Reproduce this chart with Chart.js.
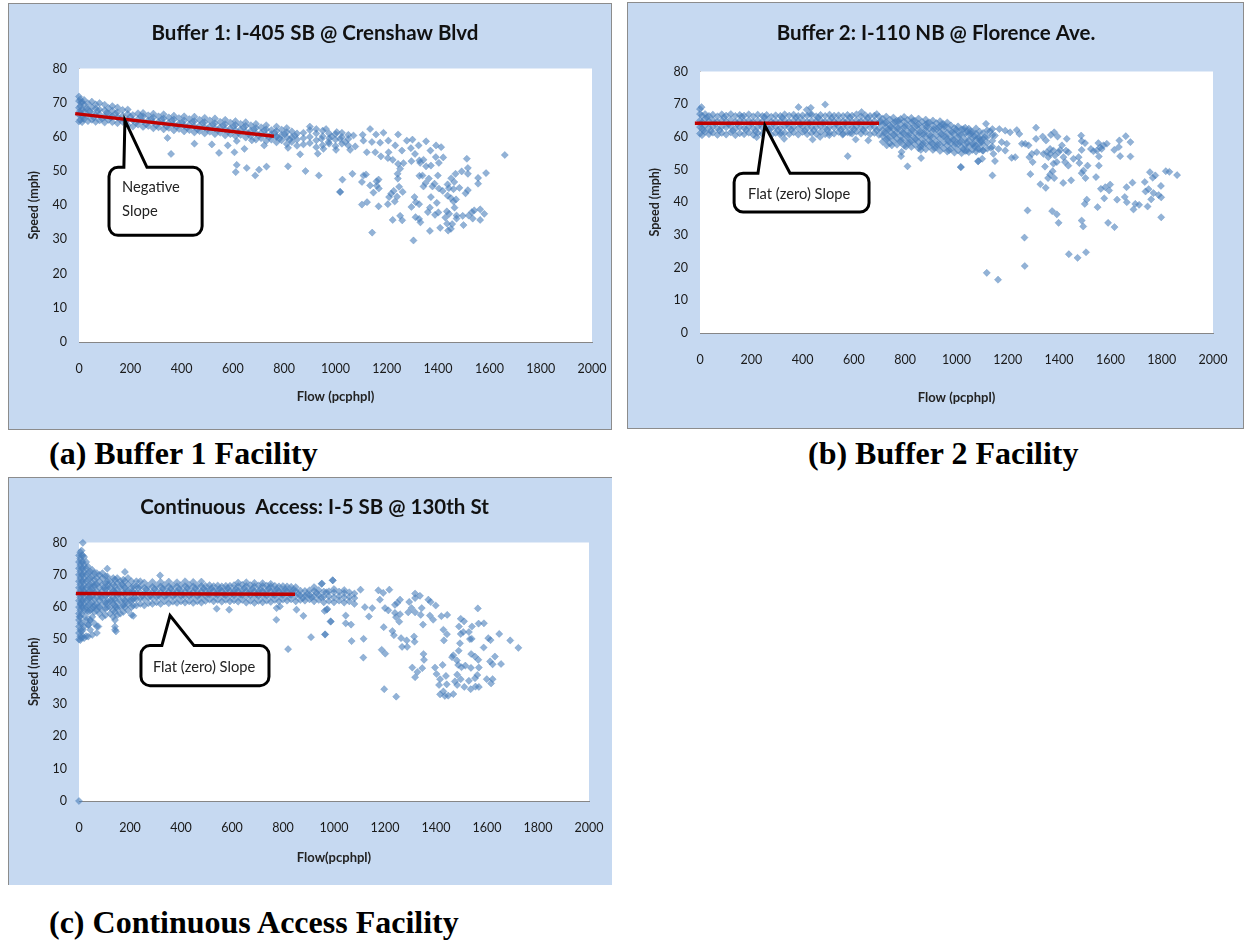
<!DOCTYPE html>
<html>
<head>
<meta charset="utf-8">
<title>Speed vs flow</title>
<script src="https://cdn.jsdelivr.net/npm/chart.js@4/dist/chart.umd.min.js"></script>
<style>
  html, body { margin: 0; padding: 0; background: #fff; }
  body { position: relative; width: 1244px; height: 942px; overflow: hidden; }
  .panel { position: absolute; background: #c6d9f1; border: 1px solid #8c8c8c; box-sizing: border-box; }
  canvas { position: absolute; }
  .cap { position: absolute; font: bold 32px "Liberation Serif", serif; color: #000; white-space: nowrap; }
</style>
</head>
<body>
<div class="panel" style="left:8px;top:3px;width:604px;height:427px"></div>
<div class="panel" style="left:627px;top:2px;width:617px;height:427px"></div>
<div class="panel" style="left:8px;top:477px;width:604px;height:408px;border-width:1px 0 0 1px"></div>
<canvas id="chartA"></canvas>
<canvas id="chartB"></canvas>
<canvas id="chartC"></canvas>
<div class="cap" style="left:49px;top:435px">(a) Buffer 1 Facility</div>
<div class="cap" style="left:808px;top:435px">(b) Buffer 2 Facility</div>
<div class="cap" style="left:49px;top:904px">(c) Continuous Access Facility</div>

<script>
const flowTicks = [0, 200, 400, 600, 800, 1000, 1200, 1400, 1600, 1800, 2000];
const speedTicks = [0, 10, 20, 30, 40, 50, 60, 70, 80];

/* dense part of each cloud: [flow, speed, speed, ...] read column by column */
const bandA = [
  [0,64.5,66.5,68.5,70.5,71.8],[5,65,67,69,71],[12,64.3,66,68,70.2],[20,65.2,67.3,69.4,70.8],[35,64.6,66.2,68.1,69.8],
  [50,65,66.9,68.6,70.3],[65,64.4,66.4,68.3,69.5],[80,64.8,66.6,68,69.9],[100,64.2,65.9,67.8,69.4],[115,65,66.8,68.4],
  [130,64.3,66,67.6,69],[150,64,65.7,67.2,68.6],[170,64.4,66.2,67.9],[190,63.5,65.1,66.7,68],[210,63,64.8,66.4],
  [230,63.6,65.2,66.9],[250,62.9,64.5,66,67],[270,63.2,64.8,66.3],[290,62.5,64.2,65.7,66.8],[310,62.8,64.4,66],
  [330,62.2,63.9,65.4,66.6],[350,62.6,64.1,65.7],[370,61.9,63.5,65.1,66.2],[390,62.3,63.9,65.5],[410,61.6,63.2,64.8,66],
  [430,62,63.6,65.2],[450,61.3,63,64.6,65.9],[470,61.7,63.3,65],[490,61,62.7,64.3,65.6],[510,61.5,63.1,64.8],
  [530,60.8,62.4,64,65.4],[550,61.2,62.8,64.4],[570,60.4,62.1,63.7,65],[590,60.8,62.5,64.2],[610,60.2,61.9,63.5,64.6],
  [630,60.6,62.2,63.8],[650,59.8,61.5,63.2,64.3],[670,60.2,61.8,63.4],[690,59.2,61,62.6,63.8],[710,59.6,61.2,62.8],
  [730,58.8,60.5,62.2,63.4],[750,59.2,60.8,62],[770,58.4,60,61.7,63],[790,59,60.6,62.1],[810,57.9,59.8,61.4,62.6],
  [830,58.5,60,61.6],[850,57.4,59.2,61],[875,57.8,59.6,61.2],[900,58.2,60,62,63],[925,57,59,61,62.3],
  [950,57.6,60.2,61.8],[975,58,59.6,61],[1000,57.3,59.2,60.8],[1025,58,60,61.2],[1050,57.5,59.4,60.6]
];
const fillA = [
  [3,67.5],[9,70],[16,65.5],[27,68.2],[42,67.4],[58,65.6],[72,67.6],[90,65.3],[108,67],[124,65.7],[142,66.8],[160,65.2],
  [180,64.7],[200,65.9],[222,64.1],[241,66],[262,63.7],[282,65.2],[302,63.4],[322,65.1],[342,63],[362,64.8],[382,63.1],
  [402,64.2],[422,62.7],[442,64.4],[462,62.2],[482,64.1],[502,62.3],[522,63.7],[542,62],[562,63.3],[582,61.6],[602,63],
  [622,61.2],[642,62.7],[662,60.9],[682,62.2],[702,60.4],[722,61.9],[742,60],[762,61.2],[782,59.5],[802,60.8],[822,59.2],[842,60.3]
];
const sparseA = [
  [1660,54.7],[1512,53.6],[1516,50.9],[1516,49.2],[1587,49.4],[1556,48],[1556,46.3],[1492,49.9],[1468,49.2],[1451,47.9],
  [1463,46.8],[1437,46.1],[1442,45],[1460,44.7],[1483,45.1],[1516,44.4],[1507,43.5],[1418,44.2],[1403,44.9],[1386,46.3],
  [1378,45.5],[1364,47.8],[1343,45.5],[1351,46.5],[1399,48.7],[1339,48.7],[1327,48.6],[1437,42.8],[1450,42.1],[1460,41.1],
  [1470,41.7],[1464,39.3],[1395,40.7],[1372,42.4],[1308,42.4],[1313,40.9],[1326,40.3],[1296,39.5],[1368,39.3],[1360,38],
  [1388,37.2],[1401,37.9],[1434,38.2],[1443,37.5],[1428,36.4],[1472,37],[1472,36.1],[1496,36.9],[1519,37],[1532,38],
  [1541,38.5],[1564,38.8],[1580,37.5],[1535,36.1],[1564,35.7],[1499,34.2],[1455,34.5],[1435,34.6],[1450,33.1],[1439,32.6],
  [1408,33.4],[1368,32.5],[1304,29.7],[1143,32],[1223,35.7],[1252,36.9],[1260,35.6],[1312,36.5],[1326,36],[1331,35],
  [1204,40.3],[1168,39.7],[1123,40.9],[1103,40.2],[1231,41.1],[1240,42.5],[1209,42.4],[1217,43.4],[1227,44.2],[1248,45.4],
  [1262,43.9],[1148,43.7],[1169,44.9],[1161,45.7],[1168,47.5],[1160,47],[1135,45.8],[1103,46.8],[1109,48.7],[1119,49],
  [1066,49.2],[1027,47.5],[1018,43.9],[1243,47.8],[1242,49.2],[1252,50.7],[1265,52.3],[1244,52.1],[1296,52.9],[1330,52.4],
  [1343,53.3],[1353,51.4],[1372,51.6],[1391,54.1],[1420,54],[1403,52.4],[1135,62.3],[1187,61.2],[1158,60.7],[1106,60.6],
  [1005,61.4],[963,62.3],[985,60.1],[1018,59.4],[1070,60.4],[1109,58.9],[1077,57.2],[1122,55.5],[1155,55.5],[1174,58.3],
  [1206,58.9],[1244,60.7],[1278,58.9],[1300,59.2],[1233,57.5],[1259,56],[1294,56.7],[1324,57.5],[1353,58.7],[1392,57.5],
  [1412,57],[1370,56],[1310,55],[1207,55.5],[1177,54.3],[1204,53.8],[1223,53.3],[1327,53.1],[953,56.5],[1002,56.2],
  [1057,56.2],[945,59.4],[973,58.5],[1038,58.5],[1142,58.5],[359,55],[345,59.7],[450,58],[518,57.8],[546,55.3],
  [580,57.5],[606,55.5],[645,56.5],[615,51.8],[611,49.7],[654,50.9],[687,48.7],[702,50.4],[731,51.3],[815,51.4],
  [883,50],[935,48.7],[1018,43.9],[815,56.8],[862,54.9],[931,55.1],[615,58.8],[674,59],[722,57.5],[771,60.1]
];
const trendA = [[-15,66.8],[760,60.2]];

const bandB = [
  [0,61,63,65,67,68.5],[8,60.5,62.5,64.5,66.5],[20,61.5,63.5,65.5,67],[35,60.8,62.8,64.8,66.4],[50,61.3,63.2,65.2,66.8],
  [68,60.6,62.6,64.6,66.3],[85,61.2,63.1,65,66.9],[102,60.7,62.9,64.7,66.5],[120,61.4,63.3,65.3,67],[138,60.5,62.5,64.6,66.4],
  [155,61.1,63,65,66.7],[172,60.8,62.7,64.8,66.5],[190,61.3,63.2,65.1,66.9],[208,60.6,62.6,64.5,66.3],[225,61.2,63,65,66.8],
  [243,60.9,62.8,64.7,66.4],[260,61.4,63.3,65.2,66.7],[278,60.6,62.6,64.6,66.2],[295,61.2,63.1,64.9,66.6],[313,60.7,62.7,64.7,66.4],
  [330,61.3,63.2,65.2,66.9],[348,60.8,62.8,64.6,66.5],[365,61.4,63.1,65,66.8],[383,60.7,62.6,64.8,66.4],[400,61.5,63.3,65.2,66.6],
  [418,60.8,62.7,64.6,66.5],[435,61.2,63,65,66.9],[453,60.9,62.9,64.8,66.3],[470,61.5,63.3,65.1,66.7],[488,60.8,62.6,64.6,66.4],
  [505,61.3,63.1,65,66.8],[523,61,62.8,64.7,66.5],[540,61.5,63.2,65.2,66.6],[558,60.9,62.7,64.8,66.4],[575,61.4,63.1,65,66.7],
  [593,61,62.9,64.6,66.5],[610,61.6,63.3,65.1,66.9],[628,61,62.7,64.7,66.3],[645,61.4,63.2,65,66.6],[663,60.8,62.8,64.6,66.4],
  [680,61.2,63,64.9,66.5],[698,60.6,62.6,64.5,66.2]
];
const bandB2 = [
  [712,58.5,60.3,62.1,63.9,65.6],[726,59.2,61,62.8,64.5,66.2],[740,58,59.9,61.7,63.5,65.3],[754,58.8,60.6,62.4,64.2,65.9],
  [768,57.6,59.5,61.3,63.1,64.9],[782,58.4,60.2,62,63.8,65.5],[796,57.3,59.2,61,62.9,64.7,66.1],[810,58.1,59.9,61.7,63.5,65.2],
  [824,56.9,58.8,60.6,62.5,64.3,65.8],[838,57.7,59.5,61.3,63.2,64.9],[852,56.5,58.4,60.3,62.2,64,65.6],[866,57.4,59.2,61,62.9,64.6],
  [880,56.2,58.1,60,61.9,63.8,65.3],[894,57.1,58.9,60.7,62.6,64.4],[908,56,57.9,59.8,61.7,63.5,65],[922,56.8,58.6,60.5,62.4,64.2],
  [936,55.7,57.6,59.5,61.4,63.2,64.8],[950,56.5,58.3,60.2,62.1,63.9],[964,55.5,57.4,59.3,61.2,63,64.4],[978,56.3,58.1,60,61.8,63.5],
  [992,55.2,57.1,59,60.9,62.7],[1006,55.9,57.8,59.7,61.5,63.2],[1020,55,56.9,58.7,60.6,62.3],[1034,55.7,57.5,59.3,61.1,62.8],
  [1048,55.3,57.2,59,60.8,62.5],[1062,56,57.8,59.6,61.4],[1076,55.5,57.4,59.2,61,62.6],[1090,56.2,58,59.8,61.6],
  [1104,55.8,57.6,59.4,61.2],[1120,56.4,58.2,60,62],[1140,57,58.8,60.6,62.4]
];
const fillB = [
  [4,64],[14,62],[27,66],[42,61.8],[58,64.2],[76,62],[93,66],[111,63.9],[128,61.9],[146,64],[163,66.2],[181,62.2],[199,64.2],
  [216,61.7],[234,64],[251,66.1],[269,62.3],[286,64.1],[304,62],[321,65.9],[339,64],[356,62.2],[374,66],[391,63.8],[409,61.9],
  [426,64.2],[444,62],[461,65.9],[479,64.3],[496,62.2],[514,65.8],[531,64],[549,62.2],[566,64.2],[584,66],[601,62.3],[619,64.3],
  [636,62.1],[654,65.8],[671,64],[689,62],
  [705,64.7],[718,61.2],[731,59.5],[744,63],[757,60.7],[770,62.5],[783,58.9],[799,63.3],[812,60.5],[826,62],[840,59.2],[855,61.3],
  [869,58],[883,63],[897,60.1],[911,62.4],[926,57.6],[940,60.8],[953,63.2],[968,58.6],[982,61.4],[997,57.9],[1011,60.5],[1026,62.4],
  [1041,58.2],[1056,60.9],[1070,57],[1085,59.7],[722,64.2],[748,57.4],[775,65],[803,57],[831,64.9],[859,56.9],[887,64.2],[915,56.6],
  [943,63.9],[971,55.9],[999,62.2],[1027,56.2],[1055,61.8],[1083,56.4],[1110,59.9],[735,62.4],[761,64.6],[790,61.2],[818,58.3],
  [846,63.5],[874,61],[902,58.1],[930,62.8],[958,60.1],[986,59.1],[1014,58.4],[1042,61.7],[1070,60.2],[1098,58.5]
];
const sparseB = [
  [1860,48.3],[1830,49.3],[1816,49.5],[1797,45],[1798,41.5],[1798,35.4],[1788,42.2],[1768,42.8],[1759,40.9],[1745,38.7],
  [1749,44],[1737,43.3],[1734,46.2],[1775,48.2],[1765,47.5],[1754,49.2],[1712,39.2],[1697,39.5],[1690,37.8],[1686,46],
  [1663,44.6],[1656,41.6],[1664,40],[1626,40.8],[1599,45.4],[1595,43.6],[1580,44.6],[1563,44.1],[1576,41.2],[1550,38.5],
  [1591,33.7],[1616,32.4],[1508,40.8],[1500,39.5],[1488,34.4],[1494,32.6],[1505,24.7],[1472,23],[1438,24.1],[1398,33.7],
  [1391,36.3],[1373,37.3],[1277,37.5],[1265,29.2],[1266,20.5],[1162,16.3],[1118,18.4],[1140,48.2],[1084,52.5],[1100,53.3],
  [1150,52.6],[1017,50.7],[1288,48.6],[1327,45.5],[1348,44.4],[1416,45.9],[1447,46.7],[1503,47.4],[1544,47.7],[1381,47.4],
  [1357,47.4],[1365,48.5],[1375,49.5],[1345,50.9],[1555,51.2],[1495,49.7],[1511,51.2],[1488,48.9],[1678,54],[1638,54.1],
  [1678,58.4],[1660,60.2],[1635,58.9],[1633,56.9],[1615,56],[1586,57.9],[1566,56.3],[1573,57.4],[1553,58.1],[1560,56.8],
  [1547,55.8],[1555,54],[1534,55.6],[1524,56.3],[1488,56],[1501,58.1],[1486,60.4],[1488,58.7],[1476,53.8],[1479,52],
  [1456,53.3],[1430,59.4],[1436,51.2],[1427,55.8],[1417,53.8],[1423,52.3],[1404,56],[1391,52.3],[1378,51.8],[1365,54.8],
  [1352,55.3],[1339,54.8],[1358,53.8],[1378,55.8],[1365,56.3],[1384,54.3],[1398,55.3],[1436,55.3],[1411,57.4],[1349,58.9],
  [1381,61.4],[1368,60.6],[1394,60.1],[1336,60.1],[1310,62.8],[1310,59.4],[1281,57.4],[1268,57.9],[1255,57.9],[1294,54.8],
  [1284,53.8],[1297,52.3],[1313,55.3],[1235,62.1],[1245,60.9],[1209,61.4],[1190,61.9],[1167,62.4],[1150,60.4],[1131,61.7],
  [1115,64],[1144,54.8],[1215,53.6],[1229,53.8],[1196,57.9],[1176,58.4],[1164,56.3],[1190,55.8],[1134,56.6],[1102,55.8],
  [1092,58.9],[1066,57.9],[1040,55.8],[384,69.1],[488,69.9],[432,68.9],[221,59.9],[328,59.4],[316,61.2],[439,59.2],
  [468,60],[504,60.5],[556,60.7],[607,59.2],[576,54.1],[656,58.9],[429,67],[585,61.2],[630,67.6],[689,67],
  [416,68.3],[786,55.4],[784,54.1],[809,51],[861,56],[862,53.5],[1017,50.8],[1085,52.6],[728,57.4],[6,69.1]
];
const trendB = [[-20,64.2],[698,64.2]];

const bandC = [
  [0,50,52,54,56,58,60,62,64,66,68,70,72,74,76],[5,49.8,51,53,55,57,59,61,63,65,67,69,71,73,75,77],
  [10,50.5,52.5,58,60,62,64,66,68,70,72,74,76,77.5],[15,51,53,60,62,64,66,68,70,72,74,76,79.9],
  [20,50.4,54,59,61,63,65,67,69,71,73,75.5],[28,51,56,60,62,64,66,68,70,72,74],[36,50.9,54.5,58.5,60.5,62.5,64.5,66.5,68.5,70.5,72.5],
  [44,53,56,59,61,63,65,67,69,71],[52,51.4,57,59.5,61.5,63.5,65.5,67.5,69.5,71.5],[60,55,58.5,60.5,62.5,64.5,66.5,68.5,70.5],
  [70,52,54,59,61,63,65,67,69,70.5],[80,58,60,62,64,66,68,70],[92,56.9,59,61,63,65,67,69,70.5],[104,57.5,59.5,61.5,63.5,65.5,67.5,69.5],
  [111,60,62,64,66,68,69.5,71.9],[122,58,60,62,64,66,68],[134,57,59,61,63,65,67,69],[141,53,54,56,58.5,60.5,62.5,64.5,66.5,68.5],
  [150,57.5,59.5,61.5,63.5,65.5,67.5,69],[162,58,60,62,64,66,68],[174,58.5,60.5,62.5,64.5,66.5,68.5],[180,60,62,64,66,68,70.9],
  [192,59,61,63,65,67,69],[206,57.6,60,62,64,66,68],[213,57.3,60.5,62.5,64.5,66.5],[225,60.5,62.5,64.5,66.5,68],
  [240,61,62.8,64.6,66.4,68],[256,60.5,62.4,64.2,66,67.6],[272,61.2,63,64.8,66.6],[288,61,62.8,64.5,66.3,67.8],
  [304,61.5,63.2,65,66.7],[320,61,62.9,64.6,66.4,67.8],[336,61.8,63.4,65.2,66.8],[352,61.2,63,64.7,66.4,67.9],
  [368,61.7,63.4,65,66.7],[384,61.3,63,64.8,66.4,67.7],[400,61.8,63.5,65.1,66.8],[416,61.4,63.1,64.8,66.5,68],
  [432,61.8,63.5,65.2,66.9],[448,61.3,63,64.7,66.4,67.8],[464,61.8,63.4,65.1,66.7],[480,61.4,63,64.8,66.5,67.9],
  [496,61.9,63.5,65.2,66.6],[512,62.3,63.9,65.4,66.8],[528,61.8,63.4,65,66.5],[544,62.2,63.8,65.3,66.7],
  [560,61.7,63.4,65,66.4],[576,62.2,63.7,65.3,66.6],[592,61.8,63.4,65,66.6],[608,62.1,63.7,65.2,66.8],
  [624,61.7,63.3,65,66.5,67.6],[640,62.2,63.8,65.3,66.9],[656,61.4,63.2,64.9,66.5,67.7],[672,61.9,63.6,65.2,66.8],
  [688,61.3,63.1,64.8,66.4,67.5],[704,61.9,63.5,65.1,66.7],[720,61.5,63.2,64.9,66.5,67.4],[736,62,63.6,65.2,66.7],
  [752,61.6,63.3,64.9,66.4,67.2],[768,62.2,63.7,65.2,66.6],[784,61.8,63.4,65,66.4],[800,62.3,63.8,65.2,66.5],
  [816,62,63.5,65,66.4],[832,62.4,63.8,65.2,66.3],[850,61.8,63.4,65,66.2],[868,62.2,63.7,65.1],[886,62,63.5,65],
  [904,62.4,63.8,65.2],[922,61.8,63.3,65,66.2],[940,62.2,63.8,65.3],[960,61.5,63.2,64.8],[980,61.9,63.4,64.9],[1000,61.5,63,64.6,65.6],
  [1020,62,63.4,64.8],[1040,61.4,63,64.4,65.3],[1060,61.8,63.2,64.6],[1080,61,62.8,64.2]
];
const fillC = [
  [2,57],[7,61],[12,55],[17,65],[24,57],[32,59],[40,63],[48,66],[56,60],[64,67],[74,60],[86,63],[98,66],[108,61],[116,67],[128,62],
  [138,65],[146,60],[156,64],[168,67],[178,61],[186,65],[198,62],[210,65],[218,63],[232,66],[248,63.5],[264,65.5],[280,63.5],[296,65.6],
  [312,63.6],[328,65.7],[344,63.8],[360,65.7],[376,63.9],[392,65.6],[408,63.8],[424,65.9],[440,64],[456,65.8],[472,63.9],[488,65.7],
  [504,64],[520,65.7],[536,64.1],[552,65.6],[568,64],[584,65.8],[600,64.2],[616,65.5],[632,64],[648,65.8],[664,64.3],[680,65.6],[696,64],
  [712,65.4],[728,64.1],[744,65.7],[760,64],[776,65.5],[792,64.1],[810,65.4],[826,64],[842,65.3],[860,64],[878,62.8],[895,64],[912,63],
  [932,64.4],[950,63],[970,64.6]
];
const sparseC = [
  [995,68.3],[953,67.3],[1104,65.4],[1174,65.2],[1217,65.4],[1193,64.4],[1180,62.3],[1259,62.3],[1248,61.3],[1239,60.7],
  [1295,61.6],[1318,64.2],[1337,63.5],[1318,62.8],[1370,62.3],[1379,61.6],[1399,60.5],[1344,59.7],[1304,59.7],[1291,58.4],
  [1318,58.4],[1340,57.6],[1259,57.8],[1239,58.2],[1243,56.9],[1256,55.5],[1213,59],[1200,59.7],[1150,59.7],[1121,60],
  [1137,57.1],[1046,57.4],[974,59.4],[963,58.8],[987,55.5],[1046,55],[1067,54.6],[965,51.5],[1069,49.5],[1116,50.2],
  [1115,44.4],[1195,53.8],[1229,52.6],[1235,51.3],[1263,50.4],[1285,49.7],[1314,50.9],[1316,49.3],[1267,47.7],[1287,47.7],
  [1187,46.8],[1201,45.6],[1349,54.6],[1376,57.4],[1389,56.1],[1421,57.2],[1444,57.6],[1564,59.6],[1497,56.4],[1510,55.6],
  [1490,54],[1541,54],[1567,54.9],[1588,55],[1429,53],[1443,51.6],[1431,49.7],[1507,52.3],[1497,51.7],[1529,52.3],
  [1540,50.2],[1533,50.1],[1494,48.8],[1489,46.5],[1468,45.1],[1463,44.5],[1482,43.5],[1487,42.1],[1500,41.4],[1515,41.9],
  [1537,41.2],[1538,45.5],[1553,44.7],[1566,43.7],[1568,41.3],[1587,47.5],[1605,50.4],[1614,49.8],[1648,51.7],[1691,49.7],
  [1723,47.4],[1631,44.7],[1612,43.2],[1622,42.3],[1655,42.4],[1351,45.5],[1353,43.7],[1346,41.1],[1307,41.3],[1327,39.9],
  [1318,38.3],[1396,41.3],[1402,39.3],[1426,42.1],[1416,37.7],[1439,38.7],[1483,39.1],[1497,37.7],[1474,37],[1483,35.9],
  [1442,36.1],[1412,35.9],[1529,37.2],[1562,39],[1553,38],[1599,37.7],[1622,37.7],[1616,36.4],[1511,35.3],[1536,34.6],
  [1555,35.4],[1568,35.3],[1468,33.1],[1448,32.6],[1429,33.9],[1416,33],[1435,32.5],[1197,34.6],[1244,32.3],[318,69.8],
  [540,59.5],[589,59.2],[774,56.1],[910,50.7],[965,51.6],[995,68.3],[820,47],[987,55.6],[971,59.2],[880,57.3],
  [775,59.7],[853,59.2],[951,67.2],[788,60.2],[76,54],[43,56],[37,54.5],[145,52.5],[0,0]
];
const trendC = [[-12,64.2],[847,64]];

const BLUE = 'rgba(74,126,187,0.6)';
const BLUE_EDGE = 'rgba(74,126,187,0.3)';
const FONT = "Lato, 'Noto Sans', sans-serif";
const INK = '#1a1a1a';
const AXIS = '#868686';

/* rows of [flow, speed, speed...] -> chart points */
const fromColumns = rows => rows.flatMap(r => r.slice(1).map(s => ({ x: r[0], y: s })));
const fromPairs = rows => rows.map(r => ({ x: r[0], y: r[1] }));

/* white plot area, drawn before the points */
const plotBackground = {
  id: 'plotBackground',
  beforeDatasetsDraw(chart) {
    const { ctx, chartArea: a } = chart;
    ctx.save();
    ctx.fillStyle = '#fff';
    ctx.fillRect(a.left, a.top, a.right - a.left, a.bottom - a.top);
    ctx.restore();
  },
};

/* speech-bubble label, placed in data units */
const callout = {
  id: 'callout',
  afterDatasetsDraw(chart, args, opts) {
    const { ctx, scales: { x, y } } = chart;
    const px = v => x.getPixelForValue(v);
    const py = v => y.getPixelForValue(v);
    const l = px(opts.box[0]), r = px(opts.box[1]), t = py(opts.box[2]), b = py(opts.box[3]);
    const rad = 9;
    ctx.save();
    ctx.beginPath();
    ctx.moveTo(l + rad, t);
    ctx.lineTo(px(opts.base[0]), t);
    ctx.lineTo(px(opts.tip[0]), py(opts.tip[1]));
    ctx.lineTo(px(opts.base[1]), t);
    ctx.arcTo(r, t, r, b, rad);
    ctx.arcTo(r, b, l, b, rad);
    ctx.arcTo(l, b, l, t, rad);
    ctx.arcTo(l, t, r, t, rad);
    ctx.closePath();
    ctx.fillStyle = '#fff';
    ctx.fill();
    ctx.strokeStyle = '#000';
    ctx.lineWidth = 3;
    ctx.stroke();
    ctx.fillStyle = '#222';
    ctx.font = `14.7px ${FONT}`;
    opts.lines.forEach(line => ctx.fillText(line.text, px(line.x), py(line.y)));
    ctx.restore();
  },
};

function drawChart(id, c) {
  const canvas = document.getElementById(id);
  canvas.style.left = c.left + 'px';
  canvas.style.top = c.top + 'px';
  canvas.width = c.width;
  canvas.height = c.height;

  new Chart(canvas, {
    type: 'scatter',
    data: {
      datasets: [
        {
          data: fromPairs(c.trend),
          showLine: true,
          borderColor: '#c00000',
          borderWidth: 3.5,
          pointRadius: 0,
          clip: false,
          order: 0,
        },
        {
          data: c.points,
          pointStyle: 'rectRot',
          pointRadius: 3.6,
          pointBorderWidth: 1,
          backgroundColor: BLUE,
          borderColor: BLUE_EDGE,
          clip: false,
          order: 1,
        },
      ],
    },
    options: {
      responsive: false,
      animation: false,
      plugins: {
        legend: { display: false },
        tooltip: { enabled: false },
        title: {
          display: true,
          text: c.title,
          color: '#111',
          font: { family: FONT, size: 20.5, weight: 'bold', lineHeight: 1 },
          padding: { top: c.titleTop, bottom: c.titleBottom },
        },
        callout: c.callout,
      },
      scales: {
        x: {
          type: 'linear',
          min: 0,
          max: 2000,
          afterBuildTicks: s => { s.ticks = flowTicks.map(v => ({ value: v })); },
          afterFit: s => { s.height = c.xHeight; s.paddingRight = c.padRight; },
          grid: { display: false, drawTicks: false },
          border: { color: AXIS },
          ticks: { color: INK, padding: c.xTickPad, maxRotation: 0, callback: v => String(v), font: { family: FONT, size: 12.5 } },
          title: {
            display: true,
            text: c.xTitle,
            color: '#222',
            font: { family: FONT, size: 13, weight: 'bold', lineHeight: 1 },
            padding: { top: 0, bottom: c.xTitleBottom },
          },
        },
        y: {
          min: 0,
          max: 80,
          afterBuildTicks: s => { s.ticks = speedTicks.map(v => ({ value: v })); },
          afterFit: s => { s.width = c.yWidth; },
          grid: { display: false, drawTicks: false },
          border: { color: AXIS },
          ticks: { color: INK, padding: 12, callback: v => String(v), font: { family: FONT, size: 12.5 } },
          title: {
            display: true,
            text: 'Speed (mph)',
            color: '#222',
            font: { family: FONT, size: 12.5, weight: 'bold', lineHeight: 1 },
            padding: { top: c.yTitleLeft, bottom: 0 },
          },
        },
      },
    },
    plugins: [plotBackground, callout],
  });
}

drawChart('chartA', {
  left: 8, top: 3, width: 614, height: 427, padRight: 30, yWidth: 71, xHeight: 88,
  titleTop: 20, titleBottom: 25, xTickPad: 19, xTitleBottom: 27, yTitleLeft: 20,
  title: 'Buffer 1: I-405 SB @ Crenshaw Blvd',
  xTitle: 'Flow (pcphpl)',
  trend: trendA,
  points: [...fromColumns(bandA), ...fromPairs(fillA), ...fromPairs(sparseA)],
  callout: {
    box: [117, 480, 51.1, 31.2], base: [175, 265], tip: [179, 64.8],
    lines: [{ text: 'Negative', x: 168, y: 43.8 }, { text: 'Slope', x: 168, y: 37 }],
  },
});

drawChart('chartB', {
  left: 627, top: 2, width: 618, height: 427, padRight: 32, yWidth: 73, xHeight: 96,
  titleTop: 21, titleBottom: 28, xTickPad: 19, xTitleBottom: 25, yTitleLeft: 22,
  title: 'Buffer 2: I-110 NB @ Florence Ave.',
  xTitle: 'Flow (pcphpl)',
  trend: trendB,
  points: [...fromColumns(bandB), ...fromColumns(bandB2), ...fromPairs(fillB), ...fromPairs(sparseB)],
  callout: {
    box: [133, 659, 48.9, 37], base: [226, 351], tip: [253, 63.5],
    lines: [{ text: 'Flat (zero) Slope', x: 187, y: 40.9 }],
  },
});

drawChart('chartC', {
  left: 8, top: 477, width: 613, height: 408, padRight: 32, yWidth: 71, xHeight: 84,
  titleTop: 20, titleBottom: 25, xTickPad: 19, xTitleBottom: 21, yTitleLeft: 20,
  title: 'Continuous  Access: I-5 SB @ 130th St',
  xTitle: 'Flow(pcphpl)',
  trend: trendC,
  points: [...fromColumns(bandC), ...fromPairs(fillC), ...fromPairs(sparseC)],
  callout: {
    box: [243, 745, 48.1, 35.7], base: [325, 451], tip: [357, 57.4],
    lines: [{ text: 'Flat (zero) Slope', x: 290, y: 40 }],
  },
});
</script>
</body>
</html>
